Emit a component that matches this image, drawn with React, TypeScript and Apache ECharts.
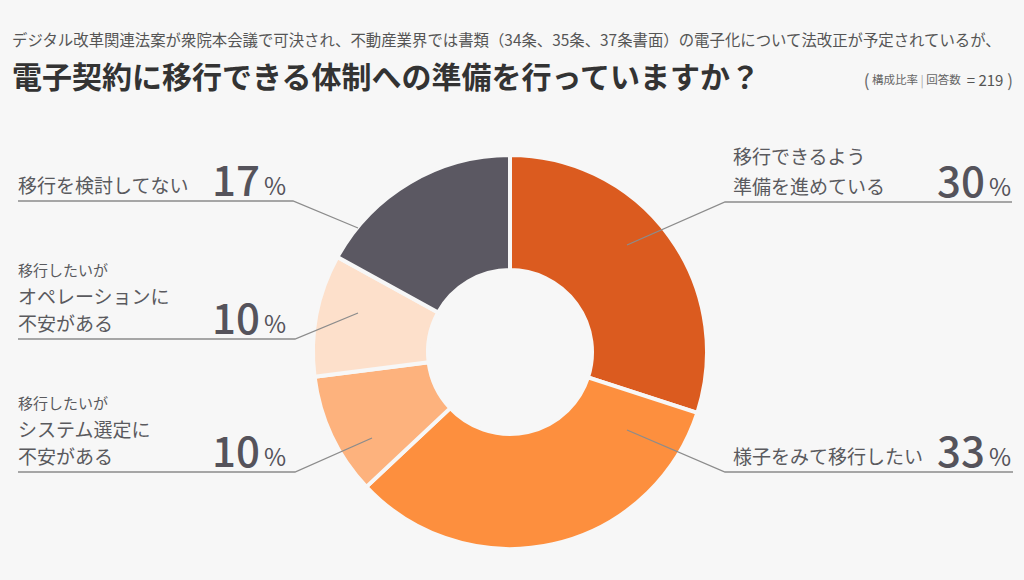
import React, { useEffect, useRef } from 'react';
import * as echarts from 'echarts';

const subtitleText = 'デジタル改革関連法案が衆院本会議で可決され、不動産業界では書類（34条、35条、37条書面）の電子化について法改正が予定されているが、';
const titleText = '電子契約に移行できる体制への準備を行っていますか？';
const noteCount = 219;

const categories = [
  '移行できるよう準備を進めている',
  '様子をみて移行したい',
  '移行したいがシステム選定に不安がある',
  '移行したいがオペレーションに不安がある',
  '移行を検討してない',
];
const labelRows = [
  ['移行できるよう', '準備を進めている'],
  ['様子をみて移行したい'],
  ['移行したいが', 'システム選定に', '不安がある'],
  ['移行したいが', 'オペレーションに', '不安がある'],
  ['移行を検討してない'],
];
const values = [30, 33, 10, 10, 17];

// styling / layout (not data)
const colors = ['#db5b1f', '#fd8f3e', '#fdb27d', '#fde0cb', '#5b5862'];
const BG = '#f7f7f7';
const FONT = '"Noto Sans CJK JP", "Noto Sans", sans-serif';
const labelBoxes = [
  { x: 733, y: 200, w: 278 },
  { x: 733, y: 470, w: 278 },
  { x: 18, y: 470, w: 268 },
  { x: 18, y: 337, w: 268 },
  { x: 18, y: 199, w: 268 },
];
const leaderLines = [
  [[627, 245], [725, 202], [1012, 202]],
  [[627, 430], [725, 472], [1013, 472]],
  [[372, 438], [295, 472], [18, 472]],
  [[358, 313], [295, 339], [18, 339]],
  [[358, 228], [293, 201], [18, 201]],
];

function labelText(i: number): string {
  const rows = labelRows[i];
  const v = values[i];
  const tail = `{p|${v}}{u|%}`;
  if (rows.length === 3) {
    return `{s|${rows[0]}}\n{m|${rows[1]}}\n{n|${rows[2]}}${tail}`;
  }
  if (rows.length === 2) {
    return `{m2|${rows[0]}}\n{n|${rows[1]}}${tail}`;
  }
  return `{n|${rows[0]}}${tail}`;
}

export default function App() {
  const ref = useRef<HTMLDivElement>(null);
  useEffect(() => {
    if (!ref.current) return;
    const chart = echarts.init(ref.current, null, { renderer: 'svg' });
    const textColor = '#5a5a5e';
    const numColor = '#55535b';
    chart.setOption({
      animation: false,
      backgroundColor: BG,
      textStyle: { fontFamily: FONT },
      title: [
        {
          text: subtitleText,
          left: 12,
          top: 31,
          padding: 0,
          textStyle: { fontSize: 15.4, fontWeight: 'normal', color: '#555', fontFamily: FONT },
        },
        {
          text: titleText,
          left: 12,
          top: 60,
          padding: 0,
          textStyle: { fontSize: 30, fontWeight: 'bold', color: '#333', fontFamily: FONT },
        },
        {
          text: `{b|(}{t| 構成比率 }{l||}{t| 回答数 }{e| = ${noteCount}}{b| )}`,
          right: 11,
          top: 71,
          padding: 0,
          textStyle: {
            fontFamily: FONT,
            fontWeight: 'normal',
            rich: {
              b: { fontSize: 17, color: '#666', fontWeight: 'normal', fontFamily: FONT },
              t: { fontSize: 11.5, color: '#666', fontWeight: 'normal', fontFamily: FONT },
              l: { fontSize: 12, color: '#aaa', fontWeight: 'normal', fontFamily: FONT },
              e: { fontSize: 15, color: '#555', fontWeight: 'normal', fontFamily: FONT },
            },
          },
        },
      ],
      graphic: leaderLines.map((pts) => ({
        type: 'polyline',
        z: 100,
        silent: true,
        shape: { points: pts },
        style: { stroke: '#8c8c8c', lineWidth: 1.3, fill: null },
      })),
      series: [
        {
          type: 'pie',
          center: [510, 352],
          radius: [82, 197],
          startAngle: 90,
          clockwise: true,
          avoidLabelOverlap: false,
          itemStyle: { borderColor: BG, borderWidth: 4 },
          labelLine: { show: false },
          label: {
            show: true,
            position: 'outside',
            overflow: 'none',
            formatter: (p: any) => labelText(p.dataIndex),
            rich: {
              s: { fontSize: 15, lineHeight: 28, color: textColor, fontFamily: FONT },
              m: { fontSize: 19, lineHeight: 24, color: textColor, fontFamily: FONT },
              m2: { fontSize: 19, lineHeight: 30, color: textColor, fontFamily: FONT },
              n: { fontSize: 19, lineHeight: 30, color: textColor, fontFamily: FONT },
              p: {
                fontSize: 42,
                fontWeight: 500,
                lineHeight: 1,
                height: 44,
                verticalAlign: 'bottom',
                align: 'right',
                color: numColor,
                fontFamily: FONT,
              },
              u: {
                fontSize: 24,
                lineHeight: 1,
                height: 30,
                verticalAlign: 'bottom',
                align: 'right',
                padding: [0, 0, 0, 4],
                color: numColor,
                fontFamily: FONT,
              },
            },
          },
          labelLayout: (params: any) => {
            const b = labelBoxes[params.dataIndex];
            return { x: b.x, y: b.y, align: 'left', verticalAlign: 'bottom' };
          },
          data: categories.map((name, i) => ({
            name,
            value: values[i],
            itemStyle: { color: colors[i] },
            label: { width: labelBoxes[i].w },
          })),
        },
      ],
    });
    return () => chart.dispose();
  }, []);
  return (
    <div
      ref={ref}
      style={{ position: 'absolute', left: 0, top: 0, width: 1024, height: 580 }}
    />
  );
}
